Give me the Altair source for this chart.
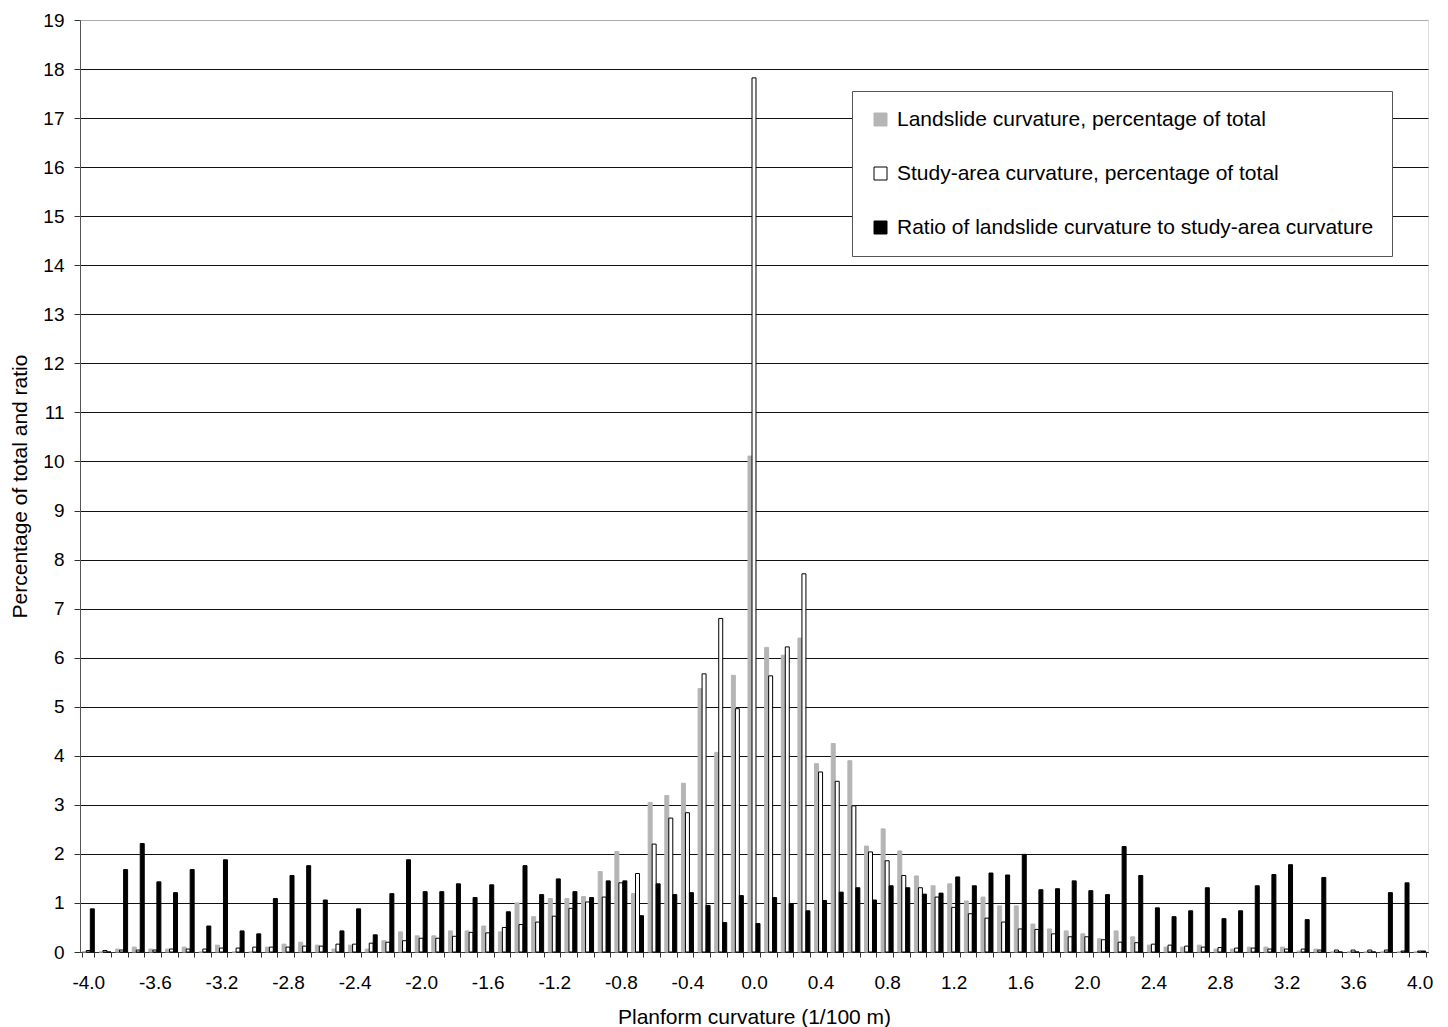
import altair as alt
import pandas as pd

curvature = ["-4.0", "-3.9", "-3.8", "-3.7", "-3.6", "-3.5", "-3.4", "-3.3", "-3.2", "-3.1",
             "-3.0", "-2.9", "-2.8", "-2.7", "-2.6", "-2.5", "-2.4", "-2.3", "-2.2", "-2.1",
             "-2.0", "-1.9", "-1.8", "-1.7", "-1.6", "-1.5", "-1.4", "-1.3", "-1.2", "-1.1",
             "-1.0", "-0.9", "-0.8", "-0.7", "-0.6", "-0.5", "-0.4", "-0.3", "-0.2", "-0.1",
             "0.0", "0.1", "0.2", "0.3", "0.4", "0.5", "0.6", "0.7", "0.8", "0.9",
             "1.0", "1.1", "1.2", "1.3", "1.4", "1.5", "1.6", "1.7", "1.8", "1.9",
             "2.0", "2.1", "2.2", "2.3", "2.4", "2.5", "2.6", "2.7", "2.8", "2.9",
             "3.0", "3.1", "3.2", "3.3", "3.4", "3.5", "3.6", "3.7", "3.8", "3.9", "4.0"]

landslide = [0.01, 0.00, 0.06, 0.10, 0.06, 0.06, 0.10, 0.00, 0.14, 0.00,
             0.00, 0.10, 0.16, 0.20, 0.14, 0.06, 0.14, 0.06, 0.23, 0.41,
             0.33, 0.33, 0.43, 0.43, 0.53, 0.41, 1.00, 0.72, 1.09, 1.09,
             1.13, 1.64, 2.05, 1.19, 3.05, 3.19, 3.44, 5.37, 4.07, 5.64,
             10.11, 6.21, 6.05, 6.40, 3.84, 4.25, 3.90, 2.16, 2.51, 2.06,
             1.55, 1.35, 1.39, 1.04, 1.12, 0.94, 0.94, 0.57, 0.47, 0.43,
             0.37, 0.27, 0.43, 0.31, 0.14, 0.10, 0.10, 0.14, 0.06, 0.06,
             0.10, 0.10, 0.10, 0.02, 0.06, 0.00, 0.00, 0.00, 0.00, 0.00, 0.00]

study_area = [0.03, 0.03, 0.04, 0.04, 0.04, 0.06, 0.06, 0.06, 0.08, 0.08,
              0.10, 0.10, 0.10, 0.12, 0.12, 0.16, 0.16, 0.18, 0.20, 0.23,
              0.28, 0.28, 0.32, 0.40, 0.39, 0.50, 0.56, 0.61, 0.73, 0.89,
              1.02, 1.12, 1.41, 1.60, 2.20, 2.73, 2.84, 5.67, 6.80, 4.96,
              17.82, 5.63, 6.22, 7.71, 3.67, 3.48, 2.98, 2.04, 1.86, 1.56,
              1.31, 1.12, 0.91, 0.78, 0.69, 0.61, 0.47, 0.46, 0.37, 0.31,
              0.31, 0.25, 0.20, 0.19, 0.16, 0.14, 0.12, 0.10, 0.09, 0.08,
              0.08, 0.06, 0.06, 0.06, 0.04, 0.04, 0.04, 0.04, 0.04, 0.02, 0.02]

ratio = [0.88, 0.00, 1.68, 2.21, 1.43, 1.21, 1.68, 0.53, 1.88, 0.43,
         0.37, 1.09, 1.56, 1.76, 1.06, 0.43, 0.88, 0.35, 1.19, 1.88,
         1.23, 1.23, 1.39, 1.11, 1.37, 0.82, 1.76, 1.17, 1.49, 1.23,
         1.11, 1.45, 1.45, 0.74, 1.39, 1.17, 1.21, 0.95, 0.60, 1.15,
         0.58, 1.11, 0.99, 0.84, 1.05, 1.22, 1.31, 1.06, 1.35, 1.31,
         1.18, 1.20, 1.53, 1.35, 1.61, 1.57, 1.99, 1.27, 1.29, 1.45,
         1.25, 1.17, 2.15, 1.56, 0.90, 0.72, 0.84, 1.31, 0.68, 0.84,
         1.35, 1.58, 1.78, 0.66, 1.52, 0.00, 0.00, 0.00, 1.21, 1.41, 0.02]

tick_labels = ["-4.0", "-3.6", "-3.2", "-2.8", "-2.4", "-2.0", "-1.6", "-1.2", "-0.8", "-0.4",
               "0.0", "0.4", "0.8", "1.2", "1.6", "2.0", "2.4", "2.8", "3.2", "3.6", "4.0"]

series_names = ["Landslide curvature, percentage of total",
                "Study-area curvature, percentage of total",
                "Ratio of landslide curvature to study-area curvature"]
fill_colors = ["#b5b5b5", "#ffffff", "#000000"]
stroke_colors = ["#b5b5b5", "#000000", "#000000"]

rows = []
for i, c in enumerate(curvature):
    for name, vals in zip(series_names, [landslide, study_area, ratio]):
        rows.append({"curvature": c, "series": name, "value": vals[i]})
df = pd.DataFrame(rows)

label_list = "[" + ",".join("'" + t + "'" for t in tick_labels) + "]"

font = "Liberation Sans"

legend_cfg = dict(title=None, orient="none", legendX=772, legendY=71,
                  symbolType="square", symbolSize=169, symbolStrokeWidth=1,
                  labelFontSize=21, labelLimit=800, labelOffset=6,
                  rowPadding=32, padding=18, strokeColor="#555555",
                  fillColor="#ffffff", labelColor="#000000")

chart = alt.Chart(df).mark_bar(strokeWidth=1).encode(
    x=alt.X("curvature:N", sort=curvature,
            scale=alt.Scale(paddingInner=0.28, paddingOuter=0.14),
            axis=alt.Axis(title="Planform curvature (1/100 m)", labelAngle=0,
                          labelExpr="indexof(" + label_list + ", datum.value) >= 0 ? datum.value : ''",
                          tickBand="extent", tickSize=5, labelPadding=16, titlePadding=14,
                          labelFontSize=19, titleFontSize=21, titleFontWeight="normal",
                          domainColor="#333333", tickColor="#333333", labelColor="#000000",
                          titleColor="#000000", grid=False, labelOverlap=False)),
    xOffset=alt.XOffset("series:N", sort=series_names,
                        scale=alt.Scale(paddingInner=0, paddingOuter=0)),
    y=alt.Y("value:Q", scale=alt.Scale(domain=[0, 19], nice=False, zero=True),
            axis=alt.Axis(title="Percentage of total and ratio", values=list(range(0, 20)),
                          tickSize=6, labelPadding=10, titlePadding=12,
                          labelFontSize=19, titleFontSize=21, titleFontWeight="normal",
                          domainColor="#555555", tickColor="#333333", labelColor="#000000",
                          titleColor="#000000",
                          gridColor={"condition": {"test": "datum.value === 19", "value": "#aaaaaa"},
                                     "value": "#111111"},
                          gridWidth=1)),
    fill=alt.Fill("series:N", sort=series_names,
                  scale=alt.Scale(domain=series_names, range=fill_colors),
                  legend=alt.Legend(**legend_cfg)),
    stroke=alt.Stroke("series:N", sort=series_names,
                      scale=alt.Scale(domain=series_names, range=stroke_colors),
                      legend=alt.Legend(**legend_cfg)),
).properties(
    width=1348, height=932,
    autosize=alt.AutoSizeParams(type="none"),
    padding={"left": 72, "top": 12, "right": 12, "bottom": 75},
).configure_view(
    stroke="#aaaaaa", strokeWidth=1.5
).configure(
    font=font
)

chart.save("out.html", embed_options={"renderer": "svg", "actions": False})
